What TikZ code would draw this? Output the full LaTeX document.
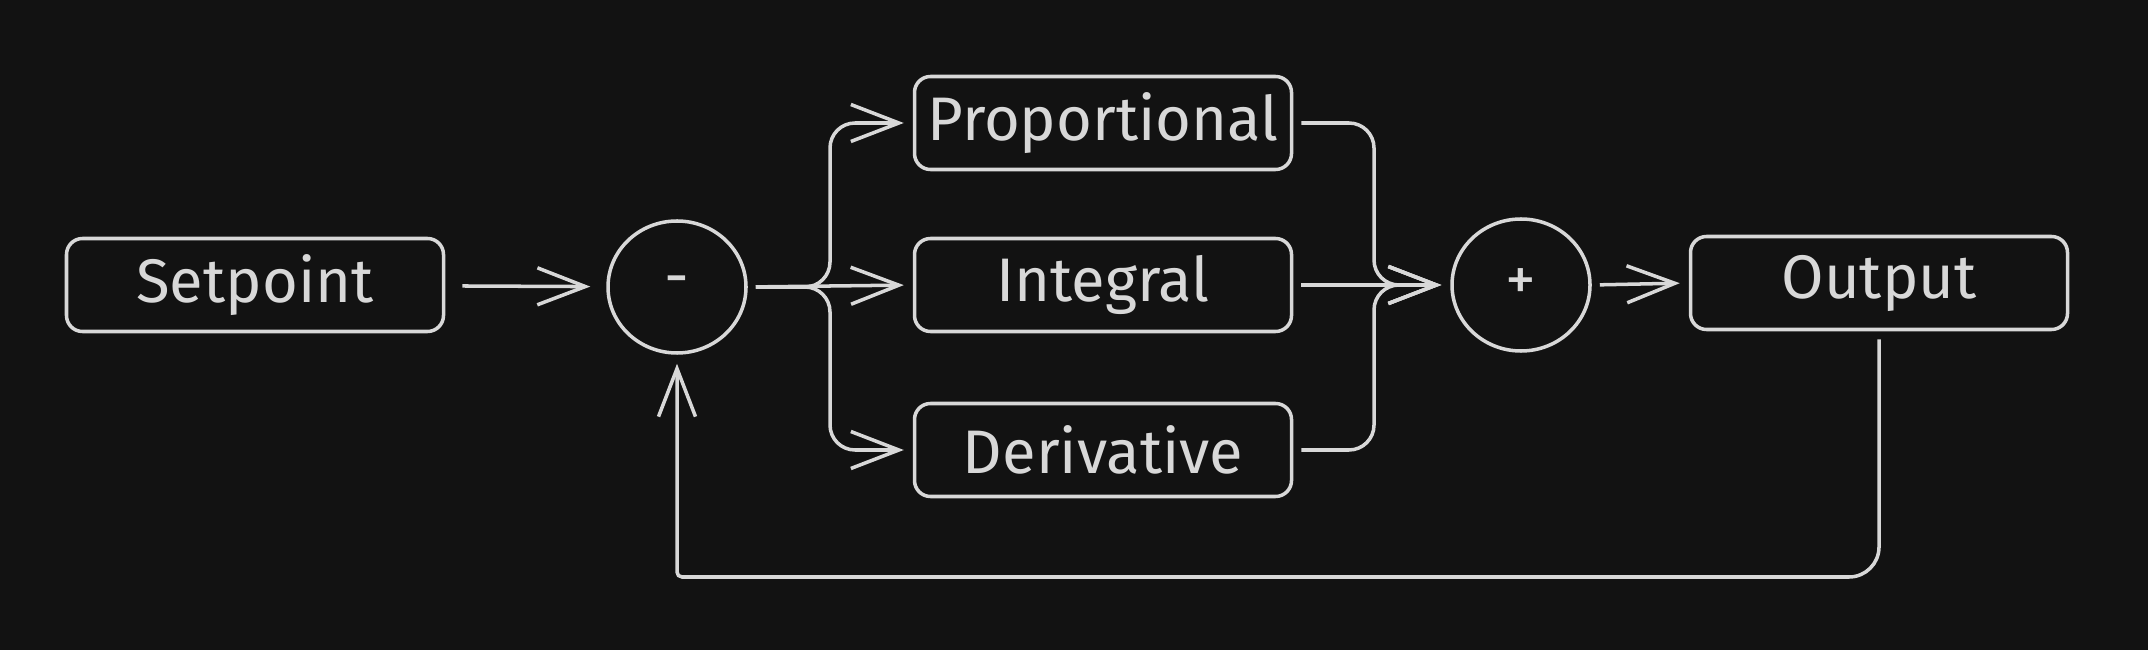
\documentclass[tikz,border=0pt]{standalone}
\usepackage{fontspec}
\setmainfont{Fira Sans}
\usepackage{tikz}
\usetikzlibrary{arrows.meta,shapes.geometric}
\definecolor{bgdark}{HTML}{121212}
\definecolor{inkgray}{HTML}{D8D8D8}

\begin{document}
\begin{tikzpicture}[>={Straight Barb[length=0.48cm,width=0.37cm]},
   line width=1pt, inkgray,
   block/.style={draw, rounded corners=0.16cm, minimum width=3.77cm, minimum height=0.93cm,
      font=\fontsize{17.5}{20}\selectfont, text=inkgray},
   junction/.style={draw, ellipse, minimum width=1.38cm, minimum height=1.32cm,
      font=\fontsize{17.5}{20}\selectfont, text=inkgray},
   conn/.style={shorten <=0.08cm, shorten >=0.09cm, rounded corners=0.25cm}]
   \fill[bgdark] (0,0) rectangle (21.48,-6.5);
   \useasboundingbox (0,0) rectangle (21.48,-6.5);

   \node[block] (setpoint) at (2.55,-2.85) {Setpoint};
   \node[junction] (minus) at (6.77,-2.87) {-};
   \node[block] (prop) at (11.03,-1.23) {Proportional};
   \node[block] (integ) at (11.03,-2.85) {Integral};
   \node[block] (deriv) at (11.03,-4.50) {Derivative};
   \node[junction] (plus) at (15.21,-2.85) {+};
   \node[block] (output) at (18.79,-2.83) {Output};

   \coordinate (split) at (8.30,-2.87);
   \coordinate (merge) at (13.74,-2.85);
   \coordinate (fbr) at (18.79,-5.77);
   \coordinate (fb) at (6.77,-5.77);

   \draw [conn,->,shorten <=0.17cm,shorten >=0.16cm] (setpoint) -- (minus) ;
   \draw [conn,->] (minus.east) -- (split) |- (prop.west) ;
   \draw [conn,->] (minus.east) -- (integ.west) ;
   \draw [conn,->] (minus.east) -- (split) |- (deriv.west) ;
   \draw [conn,->] (prop.east) -| (merge) -- (plus.west) ;
   \draw [conn,->] (integ.east) -- (plus.west) ;
   \draw [conn,->] (deriv.east) -| (merge) -- (plus.west) ;
   \draw [conn,->] (plus.east) -- (output.west) ;
   \draw [conn,->,rounded corners=0.3cm] (output.south) -- (fbr) [rounded corners=0.05cm] -- (fb) -- (minus.south) ;
\end{tikzpicture}
\end{document}
